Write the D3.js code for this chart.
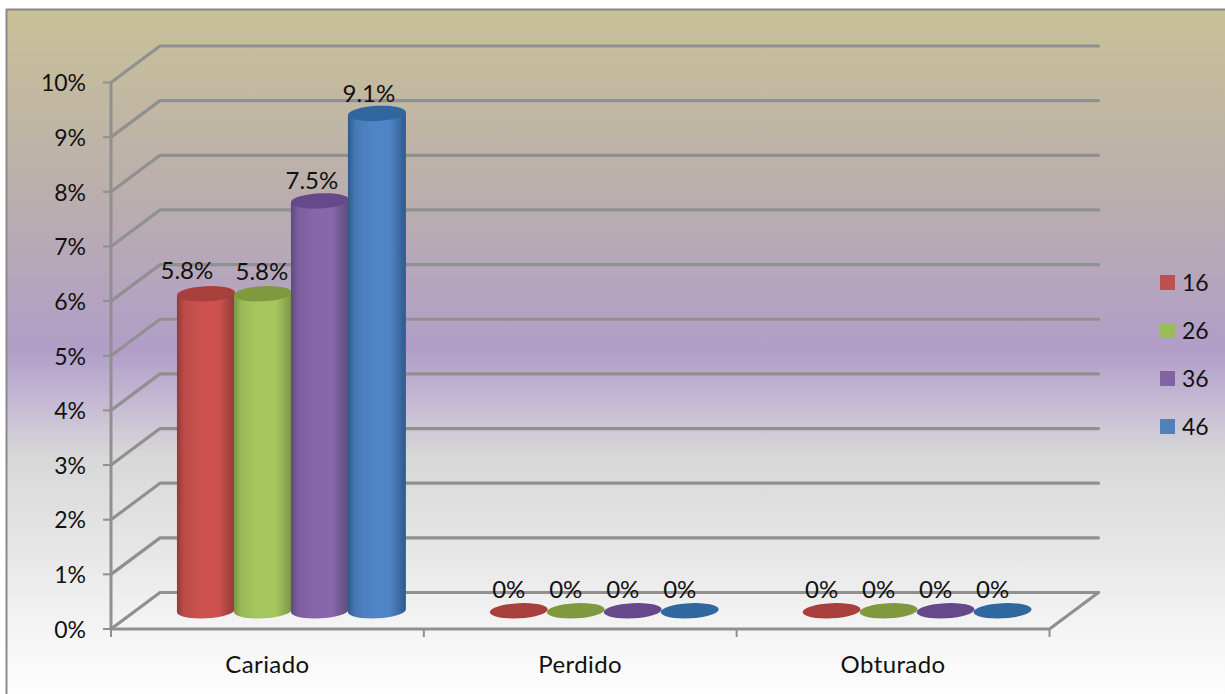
<!DOCTYPE html>
<html>
<head>
<meta charset="utf-8">
<script src="https://cdn.jsdelivr.net/npm/d3@7"></script>
<style>
  html, body { margin: 0; padding: 0; background: #fff; }
  svg { display: block; }
  text { font-family: Lato, "Noto Sans", sans-serif; fill: #111; }
</style>
</head>
<body>
<svg id="chart" width="1225" height="694"></svg>
<script>
// Chart values
const categories = ["Cariado", "Perdido", "Obturado"];
const seriesNames = ["16", "26", "36", "46"];
const values16 = [5.8, 0, 0];
const values26 = [5.8, 0, 0];
const values36 = [7.5, 0, 0];
const values46 = [9.1, 0, 0];
const seriesValues = [values16, values26, values36, values46];
const yTicks = [0, 1, 2, 3, 4, 5, 6, 7, 8, 9, 10];

// Series palette: body, edge and cap colours
const bodyColors = ["#cd524e", "#a6c75e", "#8866ab", "#4f85c6"];
const edgeColors = ["#8f3c39", "#7a9444", "#5c4a7c", "#31598a"];
const capColors  = ["#a93f3c", "#80993f", "#65498a", "#30679f"];

const svg = d3.select("#chart");
const defs = svg.append("defs");

// Panel wash, laid out in page coordinates
const bg = defs.append("linearGradient").attr("id", "panel")
  .attr("gradientUnits", "userSpaceOnUse")
  .attr("x1", 0).attr("y1", 0).attr("x2", 0).attr("y2", 694);
[[10, "#c9c197"], [180, "#bbb0ab"], [350, "#b19ec8"], [400, "#c4b8d3"],
 [457, "#d8d8d8"], [560, "#e8e8e8"], [640, "#f6f6f6"], [694, "#fdfdfd"]]
  .forEach(([o, c]) => bg.append("stop").attr("offset", o / 694).attr("stop-color", c));

// Horizontal shading that makes each bar read as a cylinder
seriesNames.forEach((s, i) => {
  const g = defs.append("linearGradient").attr("id", "cyl" + i)
    .attr("x1", 0).attr("y1", 0).attr("x2", 1).attr("y2", 0);
  [[0, edgeColors[i]], [0.12, d3.interpolateRgb(edgeColors[i], bodyColors[i])(0.7)],
   [0.4, bodyColors[i]], [0.72, bodyColors[i]], [1, edgeColors[i]]]
    .forEach(([o, c]) => g.append("stop").attr("offset", o).attr("stop-color", c));
});

svg.append("rect").attr("x", 6.5).attr("y", 9.5).attr("width", 1225).attr("height", 700)
  .attr("fill", "url(#panel)").attr("stroke", "#8a8a8a").attr("stroke-width", 2);

// Front plane of the pseudo-3D box and the shift to its back wall
const front = { left: 111, right: 1049.5, bottom: 629, top: 82.5 };
const depth = { dx: 49, dy: -36.5 };

const x = d3.scaleBand().domain(categories).range([front.left, front.right]);
const y = d3.scaleLinear().domain([0, 10]).range([front.bottom, front.top]);
const xSeries = d3.scaleBand().domain(seriesNames).range([0, 228]);

const gridColor = "#909090";
const grid = svg.append("g").attr("fill", "none").attr("stroke", gridColor)
  .attr("stroke-width", 3.2).attr("stroke-linecap", "round").attr("stroke-linejoin", "round");

// Side wall diagonals and back wall rules
grid.selectAll(".wall").data(yTicks).join("path").attr("class", "wall")
  .attr("d", t => d3.line()([
    [front.left, y(t)],
    [front.left + depth.dx, y(t) + depth.dy],
    [front.right + depth.dx, y(t) + depth.dy]
  ]));

// Floor edge and right diagonal
grid.append("path").attr("d", d3.line()([
  [front.left, y(0)], [front.right, y(0)], [front.right + depth.dx, y(0) + depth.dy]
]));

// Value axis with its ticks
const axis = svg.append("g").attr("stroke", gridColor).attr("fill", "none");
axis.append("line").attr("x1", front.left).attr("x2", front.left)
  .attr("y1", y(10)).attr("y2", y(0)).attr("stroke-width", 3);
axis.selectAll(".ytick").data(yTicks).join("line").attr("class", "ytick")
  .attr("x1", front.left - 8).attr("x2", front.left)
  .attr("y1", t => y(t)).attr("y2", t => y(t)).attr("stroke-width", 2);

// Category ticks along the floor
const catEdges = categories.map(c => x(c)).concat(front.right);
axis.selectAll(".xtick").data(catEdges).join("line").attr("class", "xtick")
  .attr("x1", d => d).attr("x2", d => d)
  .attr("y1", y(0)).attr("y2", y(0) + 8).attr("stroke-width", 2);

svg.append("g").selectAll("text").data(yTicks).join("text")
  .attr("x", 86).attr("y", t => y(t) + 0.5).attr("dy", "0.36em")
  .attr("text-anchor", "end").attr("font-size", 23)
  .text(t => t + "%");

svg.append("g").selectAll("text").data(categories).join("text")
  .attr("x", c => x(c) + x.bandwidth() / 2).attr("y", 665).attr("dy", "0.35em")
  .attr("text-anchor", "middle").attr("font-size", 24).attr("letter-spacing", 0.4)
  .text(c => c);

// Cylinders
const rx = xSeries.bandwidth() / 2 + 0.5;
const ry = 7.6;
const tilt = -3;
const sinT = Math.sin(tilt * Math.PI / 180);
const cosT = Math.cos(tilt * Math.PI / 180);
const floorShift = { dx: depth.dx / 2, dy: depth.dy / 2 };

const barData = [];
categories.forEach((c, ci) => {
  seriesNames.forEach((s, si) => {
    barData.push({
      category: c, ci, si, value: seriesValues[si][ci],
      cx: x(c) + x.bandwidth() / 2 - 114.5 + xSeries(s) + xSeries.bandwidth() / 2 + floorShift.dx
    });
  });
});

const bars = svg.append("g").selectAll("g").data(barData).join("g");

bars.filter(d => d.value > 0).append("path")
  .attr("fill", d => `url(#cyl${d.si})`)
  .attr("d", d => {
    const yb = y(0) + floorShift.dy, yt = y(d.value) + floorShift.dy;
    const lx = d.cx - rx * cosT, rxx = d.cx + rx * cosT;
    const off = rx * sinT;
    return `M${lx},${yt - off}L${lx},${yb - off}` +
      `A${rx},${ry} ${tilt} 0 0 ${rxx},${yb + off}L${rxx},${yt + off}Z`;
  });

bars.append("ellipse")
  .attr("cx", d => d.cx).attr("cy", d => y(d.value) + floorShift.dy)
  .attr("rx", rx).attr("ry", ry)
  .attr("transform", d => `rotate(${tilt} ${d.cx} ${y(d.value) + floorShift.dy})`)
  .attr("fill", d => capColors[d.si]);

// Value labels: the first group's sit a little left of their bars
const labelShiftFirstGroup = [-19, -1, -8, -8];
const labelRiseFirstGroup = [23, 22, 20, 20];
svg.append("g").selectAll("text").data(barData).join("text")
  .attr("x", d => d.cx + (d.ci === 0 ? labelShiftFirstGroup[d.si] : -10))
  .attr("y", d => y(d.value) + floorShift.dy - (d.ci === 0 ? labelRiseFirstGroup[d.si] : 21))
  .attr("dy", "0.35em")
  .attr("text-anchor", "middle").attr("font-size", 24)
  .text(d => d.value + "%");

// Legend
const legendY = d3.scalePoint().domain(seriesNames).range([282.5, 426.5]);
const legend = svg.append("g").selectAll("g").data(seriesNames).join("g")
  .attr("transform", s => `translate(1160,${legendY(s)})`);
legend.append("rect").attr("y", -7.5).attr("width", 15).attr("height", 15)
  .attr("fill", (s, i) => ["#c0504d", "#9bbb59", "#8064a2", "#4f81bd"][i]);
legend.append("text").attr("x", 22).attr("dy", "0.35em").attr("font-size", 23).text(s => s);
</script>
</body>
</html>
